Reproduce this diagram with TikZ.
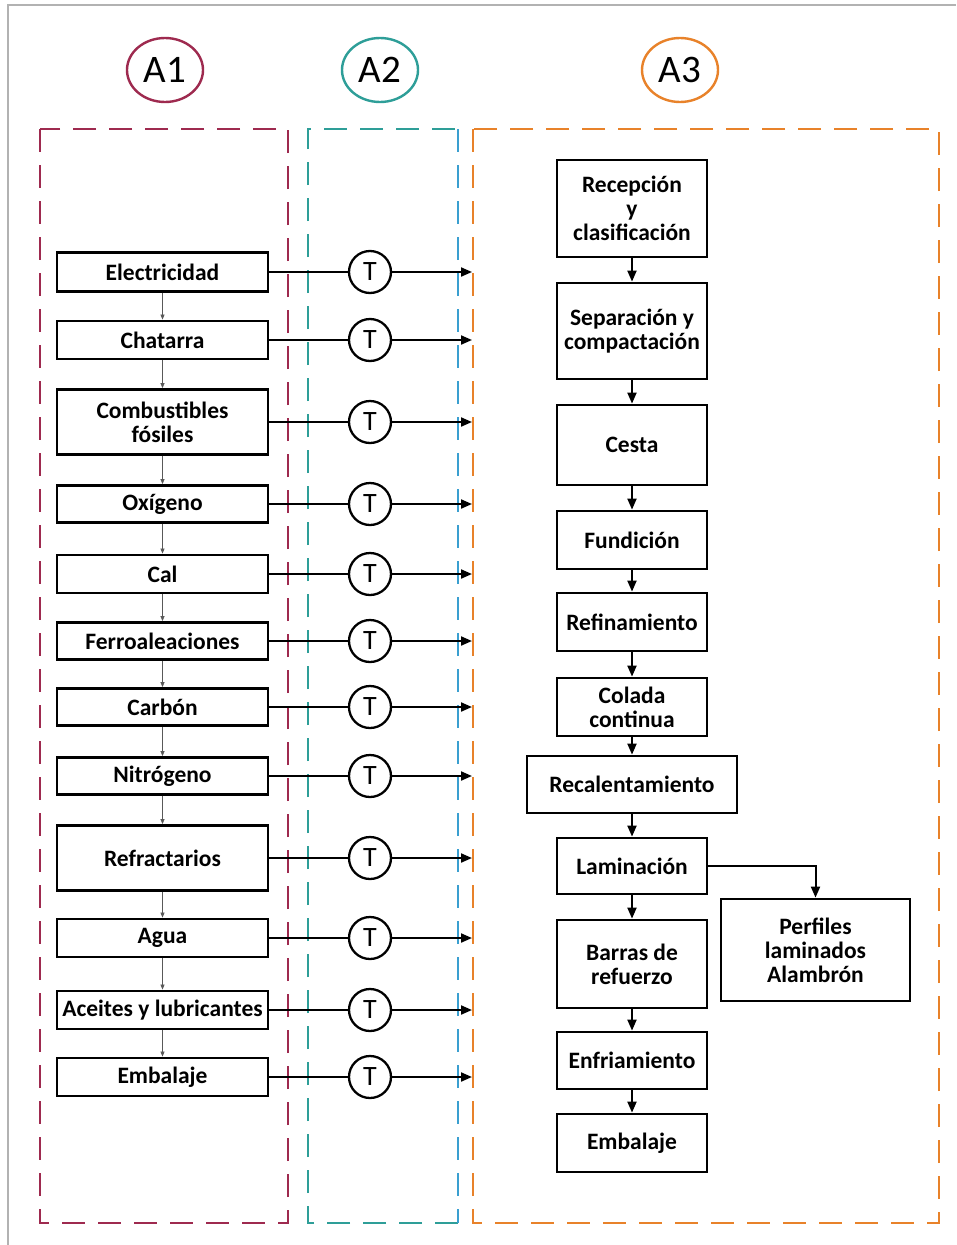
\documentclass[tikz,border=0pt]{standalone}
\usepackage{fontspec}
\setmainfont{Carlito}
\usetikzlibrary{shapes.geometric}
\usetikzlibrary{arrows.meta,calc}

\definecolor{cAuno}{HTML}{9E2A4F}
\definecolor{cAdos}{HTML}{2E9E98}
\definecolor{cAdosb}{HTML}{3A9FD0}
\definecolor{cAtres}{HTML}{E8822A}

\begin{document}
\begin{tikzpicture}[x=1pt,y=-1pt,
  caja/.style={draw,line width=2.8pt,fill=white,inner sep=0pt,align=center,
    font=\fontsize{23.5}{24}\selectfont\bfseries},
  etiqueta/.style={ellipse,draw,line width=2.4pt,minimum width=76,minimum height=64,
    inner sep=0pt,font=\fontsize{39}{40}\selectfont},
  zona/.style={line width=2.8pt,dash pattern=on 23pt off 13pt},
  tcirc/.style={circle,draw,line width=2.3pt,fill=white,minimum size=42,inner sep=0pt,
    font=\fontsize{28}{28}\selectfont},
  flecha/.style={line width=2pt,-{Triangle[length=11pt,width=9pt]}},
  fina/.style={gray!70!black,line width=0.7pt,-{Triangle[length=5pt,width=4pt]}}]

       \useasboundingbox (0,0) rectangle (956,1245);
       \fill[white] (0,0) rectangle (956,1245);
       \draw[gray!60,line width=1.6pt] (8,1245) -- (8,5) -- (956,5);

       % zonas
       \draw[zona,cAuno] (40,129) rectangle (288,1223);
       \draw[zona,cAdos] (458,1223) -- (308,1223) -- (308,129) -- (458,129);
       \draw[zona,cAdosb] (458,129) -- (458,1223);
       \draw[zona,cAtres] (473,129) rectangle (939,1223);

       \node[etiqueta,cAuno] (A1) at (165,70) {\textcolor{black}{A1}};
       \node[etiqueta,cAdos] (A2) at (380,70) {\textcolor{black}{A2}};
       \node[etiqueta,cAtres] (A3) at (680,70) {\textcolor{black}{A3}};

       % entradas
       \foreach \i/\y/\h/\txt in {1/272/39/Electricidad, 2/340/38/Chatarra,
         3/422/65/{Combustibles\\fósiles}, 4/504/37/Oxígeno, 5/574/38/Cal,
         6/641/37/Ferroaleaciones, 7/707/37/Carbón, 8/776/37/Nitrógeno,
         9/858/65/Refractarios, 10/938/38/Agua, 11/1010/38/Aceites y lubricantes,
         12/1077/38/Embalaje}  {
       	\node[caja,minimum width=211,minimum height=\h] (L\i) at (162.5,\y) {\txt};
       	\node[tcirc] (T\i) at (370,\y) {T};
       	\coordinate (E\i) at (472,\y);
       	\draw[line width=2pt] (L\i.east) -- (T\i);
       	\draw[flecha] (T\i) -- (E\i);
       }

       \foreach \i [evaluate=\i as \j using int(\i+1)] in {1,...,11}  {
       	\draw[fina] (L\i.south) -- (L\j.north);
       }

       % proceso
       \foreach \i/\y/\w/\h/\txt in {1/208.5/150/97/{Recepción\\y\\clasificación},
         2/331/150/96/{Separación y\\compactación}, 3/445/150/80/Cesta,
         4/540/150/58/Fundición, 5/622/150/58/Refinamiento,
         6/707/150/58/{Colada\\continua}, 7/784.5/210/57/Recalentamiento,
         8/866/150/56/Laminación, 9/964/150/88/{Barras de\\refuerzo},
         10/1060.5/150/57/Enfriamiento, 11/1143/150/58/Embalaje}  {
       	\node[caja,minimum width=\w,minimum height=\h] (R\i) at (632,\y) {\txt};
       }

       \node[caja,minimum width=189,minimum height=102] (P) at (815.5,950)
         {Perfiles\\laminados\\Alambrón};

       \foreach \i [evaluate=\i as \j using int(\i+1)] in {1,...,7,8,9,10}  {
       	\draw[flecha] (R\i.south) -- (R\j.north);
       }
       \draw[flecha] (R8.east) -| (P.north);

\end{tikzpicture}
\end{document}
